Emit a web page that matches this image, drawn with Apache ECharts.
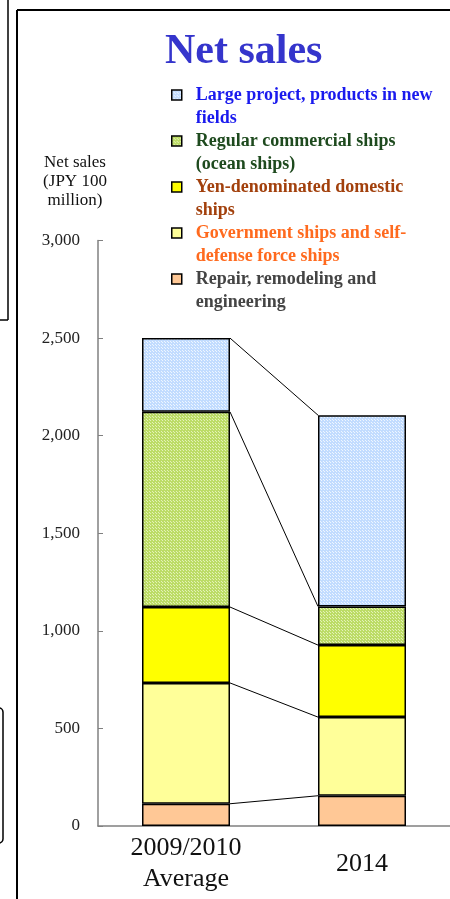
<!DOCTYPE html>
<html>
<head>
<meta charset="utf-8">
<script src="https://cdn.jsdelivr.net/npm/echarts@6/dist/echarts.min.js"></script>
<style>html,body{margin:0;padding:0;background:#fff;}#c{width:450px;height:899px;}</style>
</head>
<body>
<div id="c"></div>
<script>
// ---- data ----
const categories = ['2009/2010\nAverage', '2014'];
const repair = [114, 155];
const government = [619, 403];
const yenDomestic = [389, 369];
const regularCommercial = [1000, 198];
const largeProject = [378, 980];
const yTicks = [0, 500, 1000, 1500, 2000, 2500, 3000];
const seriesNames = [
  'Repair, remodeling and\nengineering',
  'Government ships and self-\ndefense force ships',
  'Yen-denominated domestic\nships',
  'Regular commercial ships\n(ocean ships)',
  'Large project, products in new\nfields'
];

function makePattern(base, dot) {
  const cv = document.createElement('canvas');
  cv.width = 3; cv.height = 3;
  const g = cv.getContext('2d');
  g.fillStyle = base; g.fillRect(0, 0, 3, 3);
  g.fillStyle = dot; g.fillRect(0, 0, 1, 1); g.fillRect(2, 2, 1, 1);
  return { image: cv, repeat: 'repeat' };
}
const bluePat = makePattern('#c2dcff', '#eef6ff');
const greenPat = makePattern('#bcdc66', '#e4f2b8');

const stackVals = [repair, government, yenDomestic, regularCommercial, largeProject];
const fills = ['#ffc896', '#ffff99', '#ffff00', greenPat, bluePat];
const textColors = ['#444444', '#ff6a1e', '#a2400c', '#1e4a1e', '#1a1aee'];

// cumulative tops for connector lines
const connectors = [];
let cumL = 0, cumR = 0;
stackVals.forEach(arr => { cumL += arr[0]; cumR += arr[1]; connectors.push([cumL, cumR]); });

const chart = echarts.init(document.getElementById('c'), null, { renderer: 'canvas' });

const series = stackVals.map((arr, i) => ({
  name: seriesNames[i],
  type: 'bar',
  stack: 'total',
  barWidth: '50%',
  data: arr,
  itemStyle: { color: fills[i], borderColor: '#000', borderWidth: 1.5 },
  z: 3
}));
series.push({
  type: 'custom',
  data: connectors,
  z: 2,
  silent: true,
  renderItem: function (params, api) {
    const p1 = api.coord([0, api.value(0)]);
    const p2 = api.coord([1, api.value(1)]);
    const hw = api.size([1, 0])[0] * 0.25;
    return {
      type: 'line',
      shape: { x1: p1[0] + hw, y1: p1[1], x2: p2[0] - hw, y2: p2[1] },
      style: { stroke: '#000', lineWidth: 1 }
    };
  },
  encode: { x: -1, y: [0, 1] }
});

const legendData = seriesNames.slice().reverse().map((n, k) => {
  const i = seriesNames.length - 1 - k;
  return {
    name: n,
    itemStyle: { color: fills[i], borderColor: '#000', borderWidth: 1.5 },
    textStyle: { color: textColors[i] }
  };
});

chart.setOption({
  animation: false,
  backgroundColor: '#fff',
  title: {
    text: 'Net sales',
    left: 160, top: 26,
    textStyle: { fontFamily: 'Liberation Serif', fontWeight: 'bold', fontSize: 42, color: '#3535cc' }
  },
  legend: {
    orient: 'vertical',
    left: 166, top: 55.5,
    itemWidth: 10, itemHeight: 10,
    itemGap: -23,
    icon: 'rect',
    data: legendData,
    selectedMode: false,
    formatter: name => '\n' + name,
    textStyle: {
      fontFamily: 'Liberation Serif', fontWeight: 'bold', fontSize: 18,
      lineHeight: 23, padding: [0, 0, 0, 9]
    }
  },
  grid: { left: 98, right: 0, top: 240.5, bottom: 73, containLabel: false },
  xAxis: {
    type: 'category',
    data: categories,
    axisLine: { lineStyle: { color: '#808080', width: 1.5 } },
    axisTick: { inside: true, length: 5, lineStyle: { color: '#808080' } },
    axisLabel: {
      fontFamily: 'Liberation Serif', fontSize: 26, color: '#111',
      lineHeight: 31, verticalAlign: 'middle', margin: 38
    }
  },
  yAxis: {
    type: 'value',
    min: yTicks[0], max: yTicks[yTicks.length - 1], interval: yTicks[1] - yTicks[0],
    name: 'Net sales\n(JPY 100\nmillion)',
    nameLocation: 'end',
    nameGap: 30,
    nameTextStyle: {
      fontFamily: 'Liberation Serif', fontSize: 17, color: '#111',
      lineHeight: 19, align: 'center', verticalAlign: 'bottom', padding: [0, 46, 0, 0]
    },
    splitLine: { show: false },
    axisLine: { show: true, lineStyle: { color: '#808080', width: 1.5 } },
    axisTick: { show: true, inside: true, length: 5, lineStyle: { color: '#808080' } },
    axisLabel: {
      fontFamily: 'Liberation Serif', fontSize: 17, color: '#222', margin: 18,
      formatter: v => v.toLocaleString('en-US')
    }
  },
  graphic: [
    { type: 'line', shape: { x1: 17, y1: 10, x2: 450, y2: 10 }, style: { stroke: '#000', lineWidth: 2 } },
    { type: 'line', shape: { x1: 17, y1: 10, x2: 17, y2: 899 }, style: { stroke: '#000', lineWidth: 2 } },
    { type: 'line', shape: { x1: 8, y1: 0, x2: 8, y2: 320 }, style: { stroke: '#000', lineWidth: 1.5 } },
    { type: 'line', shape: { x1: 0, y1: 320, x2: 8, y2: 320 }, style: { stroke: '#000', lineWidth: 1.5 } },
    { type: 'rect', shape: { x: -10, y: 708, width: 13, height: 135, r: 4 }, style: { fill: 'none', stroke: '#000', lineWidth: 1.5 } }
  ],
  series: series
});
</script>
</body>
</html>
